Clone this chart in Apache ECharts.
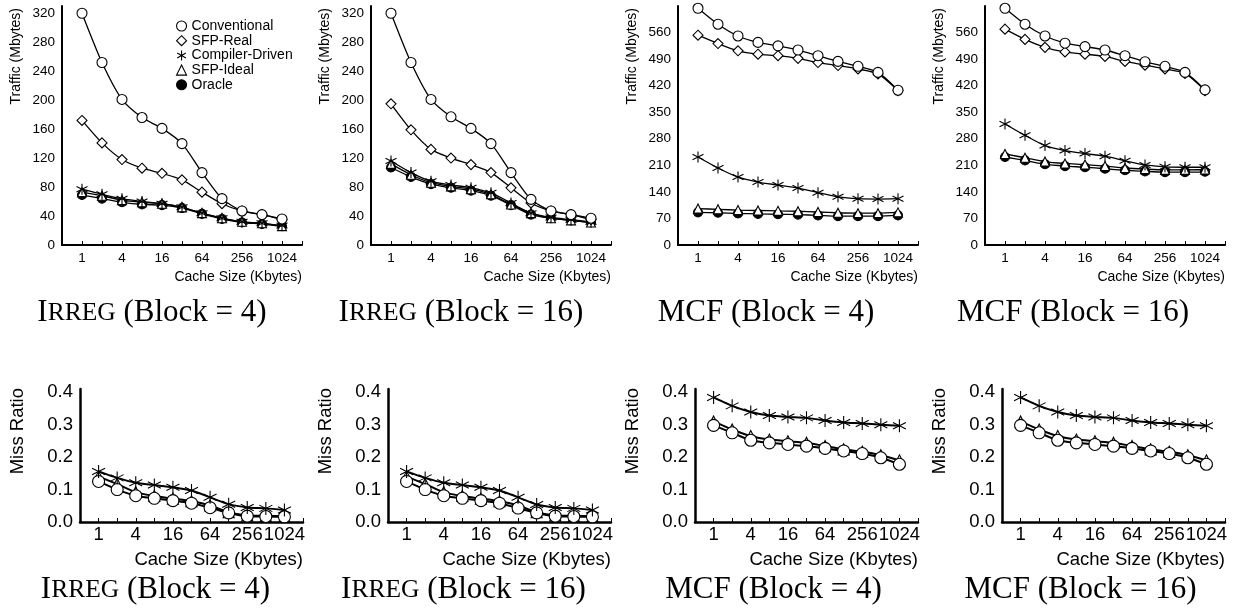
<!DOCTYPE html>
<html>
<head>
<meta charset="utf-8">
<script src="https://cdn.jsdelivr.net/npm/echarts@6/dist/echarts.min.js"></script>
<style>
html, body { margin: 0; padding: 0; background: #fff; }
#chart { width: 1234px; height: 616px; }
</style>
</head>
<body>
<div id="chart"></div>
<script>
// cache sizes in Kbytes (x positions 1..11 on a log2 scale)
var cacheSizes = [1, 2, 4, 8, 16, 32, 64, 128, 256, 512, 1024];
var shownSizes = [1, 4, 16, 64, 256, 1024];

// traffic (Mbytes) - Irreg, block 4
var irreg4Conventional = [320, 252, 201, 176, 161, 140, 100, 64, 47, 42, 36];
var irreg4SfpReal      = [172, 141, 118, 106, 99, 90, 73, 57, 47, 42, 35];
var irreg4Compiler     = [77, 70, 64, 60, 57, 52, 44, 37, 32, 30, 27];
var irreg4SfpIdeal     = [73, 68, 62, 59, 57, 52, 44, 37, 32, 30, 26];
var irreg4Oracle       = [69, 64, 59, 56, 55, 51, 43, 36, 31, 29, 26];

// traffic (Mbytes) - Irreg, block 16
var irreg16Conventional = [320, 252, 201, 177, 161, 140, 100, 63, 47, 42, 37];
var irreg16SfpReal      = [195, 159, 132, 120, 111, 100, 79, 58, 47, 42, 35];
var irreg16Compiler     = [116, 100, 88, 83, 79, 72, 58, 44, 38, 35, 32];
var irreg16SfpIdeal     = [112, 97, 86, 81, 77, 70, 56, 44, 37, 34, 31];
var irreg16Oracle       = [107, 94, 84, 79, 75, 68, 55, 42, 37, 34, 31];

// traffic (Mbytes) - MCF, block 4
var mcf4Conventional = [624, 582, 551, 534, 525, 514, 499, 484, 471, 455, 408];
var mcf4SfpReal      = [553, 531, 512, 503, 499, 492, 481, 473, 464, 451, 407];
var mcf4Compiler     = [232, 203, 179, 166, 158, 150, 138, 127, 122, 121, 122];
var mcf4SfpIdeal     = [96, 94, 92, 91, 90, 89, 87, 85, 84, 84, 86];
var mcf4Oracle       = [86, 85, 83, 82, 81, 80, 78, 76, 76, 76, 78];

// traffic (Mbytes) - MCF, block 16
var mcf16Conventional = [624, 582, 551, 532, 523, 514, 499, 483, 471, 455, 409];
var mcf16SfpReal      = [569, 542, 521, 509, 503, 497, 484, 474, 464, 452, 407];
var mcf16Compiler     = [319, 289, 262, 249, 241, 234, 222, 211, 206, 205, 205];
var mcf16SfpIdeal     = [240, 230, 220, 215, 212, 208, 203, 200, 198, 198, 199];
var mcf16Oracle       = [232, 223, 213, 208, 205, 201, 197, 194, 192, 192, 193];

// miss ratio
var irreg4MissConventional = [0.125, 0.100, 0.081, 0.073, 0.066, 0.058, 0.044, 0.028, 0.018, 0.017, 0.016];
var irreg4MissCompiler     = [0.156, 0.136, 0.121, 0.114, 0.107, 0.097, 0.076, 0.055, 0.045, 0.042, 0.037];
var irreg4MissSfpIdeal     = [0.140, 0.117, 0.092, 0.080, 0.072, 0.064, 0.051, 0.030, 0.020, 0.019, 0.018];

var irreg16MissConventional = [0.125, 0.100, 0.081, 0.073, 0.066, 0.058, 0.043, 0.028, 0.018, 0.017, 0.016];
var irreg16MissCompiler     = [0.156, 0.136, 0.121, 0.114, 0.107, 0.097, 0.076, 0.054, 0.045, 0.042, 0.037];
var irreg16MissSfpIdeal     = [0.140, 0.117, 0.092, 0.080, 0.072, 0.064, 0.051, 0.030, 0.020, 0.019, 0.018];

var mcf4MissConventional = [0.298, 0.275, 0.252, 0.244, 0.239, 0.234, 0.227, 0.219, 0.211, 0.198, 0.178];
var mcf4MissCompiler     = [0.384, 0.358, 0.339, 0.328, 0.324, 0.321, 0.313, 0.307, 0.304, 0.300, 0.297];
var mcf4MissSfpIdeal     = [0.310, 0.285, 0.265, 0.254, 0.249, 0.244, 0.234, 0.224, 0.217, 0.206, 0.190];

var mcf16MissConventional = [0.298, 0.275, 0.252, 0.244, 0.239, 0.234, 0.227, 0.219, 0.211, 0.198, 0.178];
var mcf16MissCompiler     = [0.384, 0.358, 0.339, 0.328, 0.324, 0.321, 0.313, 0.307, 0.304, 0.300, 0.297];
var mcf16MissSfpIdeal     = [0.310, 0.285, 0.265, 0.254, 0.249, 0.244, 0.234, 0.224, 0.217, 0.206, 0.190];

var SANS = '"Liberation Sans", Arial, sans-serif';
var SERIF = '"Liberation Serif", "Times New Roman", serif';
var ASTERISK = 'path://M5,0L5,10M0.67,2.5L9.33,7.5M0.67,7.5L9.33,2.5';

// marker look of each scheme
var markers = {
    'Conventional':    { symbol: 'circle',   fill: '#fff', size: 10 },
    'SFP-Real':        { symbol: 'diamond',  fill: '#fff', size: 10 },
    'Compiler-Driven': { symbol: ASTERISK,   fill: '#000', size: 11 },
    'SFP-Ideal':       { symbol: 'triangle', fill: '#fff', size: 9 },
    'Oracle':          { symbol: 'circle',   fill: '#000', size: 9 }
};

var panels = [
    { bench: 'IRREG', block: 4, row: 0, left: 62, max: 330, step: 40,
      lines: [['Oracle', irreg4Oracle], ['SFP-Ideal', irreg4SfpIdeal], ['Compiler-Driven', irreg4Compiler], ['SFP-Real', irreg4SfpReal], ['Conventional', irreg4Conventional]] },
    { bench: 'IRREG', block: 16, row: 0, left: 371, max: 330, step: 40,
      lines: [['Oracle', irreg16Oracle], ['SFP-Ideal', irreg16SfpIdeal], ['Compiler-Driven', irreg16Compiler], ['SFP-Real', irreg16SfpReal], ['Conventional', irreg16Conventional]] },
    { bench: 'MCF', block: 4, row: 0, left: 678, max: 630, step: 70,
      lines: [['Oracle', mcf4Oracle], ['SFP-Ideal', mcf4SfpIdeal], ['Compiler-Driven', mcf4Compiler], ['SFP-Real', mcf4SfpReal], ['Conventional', mcf4Conventional]] },
    { bench: 'MCF', block: 16, row: 0, left: 985, max: 630, step: 70,
      lines: [['Oracle', mcf16Oracle], ['SFP-Ideal', mcf16SfpIdeal], ['Compiler-Driven', mcf16Compiler], ['SFP-Real', mcf16SfpReal], ['Conventional', mcf16Conventional]] },
    { bench: 'IRREG', block: 4, row: 1, left: 80, max: 0.41, step: 0.1,
      lines: [['SFP-Ideal', irreg4MissSfpIdeal], ['Conventional', irreg4MissConventional], ['Compiler-Driven', irreg4MissCompiler]] },
    { bench: 'IRREG', block: 16, row: 1, left: 388, max: 0.41, step: 0.1,
      lines: [['SFP-Ideal', irreg16MissSfpIdeal], ['Conventional', irreg16MissConventional], ['Compiler-Driven', irreg16MissCompiler]] },
    { bench: 'MCF', block: 4, row: 1, left: 695, max: 0.41, step: 0.1,
      lines: [['SFP-Ideal', mcf4MissSfpIdeal], ['Conventional', mcf4MissConventional], ['Compiler-Driven', mcf4MissCompiler]] },
    { bench: 'MCF', block: 16, row: 1, left: 1002, max: 0.41, step: 0.1,
      lines: [['SFP-Ideal', mcf16MissSfpIdeal], ['Conventional', mcf16MissConventional], ['Compiler-Driven', mcf16MissCompiler]] }
];

// row geometry: top row traffic, bottom row miss ratio
var rows = [
    { top: 6, height: 239, width: 240, font: 13.5, nameFont: 14, yTitle: 'Traffic (Mbytes)', yTitleTop: 8, yTitleGap: 46,
      xNameY: 277, captionY: 313, axisWidth: 2, labelMargin: 6, markScale: 1, lineWidth: 1.3 },
    { top: 389, height: 133, width: 223, font: 18.5, nameFont: 18.5, yTitle: 'Miss Ratio', yTitleTop: 388, yTitleGap: 62,
      xNameY: 560, captionY: 590, axisWidth: 2.5, labelMargin: 3, markScale: 1.2, lineWidth: 2 }
];

var option = {
    backgroundColor: '#fff',
    animation: false,
    grid: [], xAxis: [], yAxis: [], series: [], title: [], graphic: [],
    legend: {
        left: 176, top: 19, orient: 'vertical', padding: 0, itemGap: 0.7,
        itemWidth: 10, itemHeight: 10, selectedMode: false,
        textStyle: { fontFamily: SANS, fontSize: 14, lineHeight: 14, color: '#000' },
        data: ['Conventional', 'SFP-Real', 'Compiler-Driven', 'SFP-Ideal', 'Oracle'].map(function (n) {
            var m = markers[n];
            return { name: n, icon: m.symbol,
                     itemStyle: { color: m.fill, borderColor: '#000', borderWidth: 1.1 } };
        })
    }
};

panels.forEach(function (p, k) {
    var r = rows[p.row];
    var isMiss = p.row === 1;
    option.grid.push({ left: p.left, top: r.top, width: r.width, height: r.height, containLabel: false });
    option.xAxis.push({
        type: 'value', gridIndex: k, min: 0, max: 12, interval: 1,
        axisLine: { show: true, onZero: false, lineStyle: { color: '#000', width: r.axisWidth } },
        axisTick: { show: true, inside: true, length: 4, lineStyle: { color: '#000', width: 1 } },
        splitLine: { show: false },
        axisLabel: {
            color: '#000', fontFamily: SANS, fontSize: r.font, margin: r.labelMargin,
            showMinLabel: true, showMaxLabel: true,
            formatter: function (v) {
                var s = cacheSizes[v - 1];
                return s !== undefined && shownSizes.indexOf(s) >= 0 ? String(s) : '';
            }
        }
    });
    option.yAxis.push({
        type: 'value', gridIndex: k, min: 0, max: p.max, interval: p.step,
        axisLine: { show: true, lineStyle: { color: '#000', width: r.axisWidth } },
        axisTick: { show: false },
        splitLine: { show: false },
        axisLabel: {
            color: '#000', fontFamily: SANS, fontSize: r.font, margin: 7, showMaxLabel: isMiss ? false : false,
            formatter: function (v) {
                if (isMiss) return v > 0.405 ? '' : v.toFixed(1);
                return v > p.max - 1e-6 ? '' : String(v);
            }
        }
    });
    p.lines.forEach(function (ln) {
        var m = markers[ln[0]];
        option.series.push({
            name: ln[0], type: 'line', xAxisIndex: k, yAxisIndex: k,
            smooth: 0.25, symbol: m.symbol, symbolSize: Math.round(m.size * r.markScale),
            showSymbol: true,
            lineStyle: { color: '#000', width: r.lineWidth },
            itemStyle: { color: m.fill, borderColor: '#000', borderWidth: 1.1 },
            data: ln[1].map(function (v, i) { return [i + 1, v]; })
        });
    });

    // y axis title, top aligned
    option.graphic.push({
        type: 'text', x: p.left - r.yTitleGap, y: r.yTitleTop, rotation: Math.PI / 2,
        style: { text: r.yTitle, fontFamily: SANS, fontSize: r.nameFont, fill: '#000',
                 align: 'right', verticalAlign: 'middle', textAlign: 'right', textVerticalAlign: 'middle' }
    });
    // x axis title, right aligned with axis end
    option.graphic.push({
        type: 'text', x: p.left + r.width, y: r.xNameY,
        style: { text: 'Cache Size (Kbytes)', fontFamily: SANS, fontSize: r.nameFont, fill: '#000',
                 align: 'right', verticalAlign: 'middle', textAlign: 'right', textVerticalAlign: 'middle' }
    });
    // caption below each panel
    var name = p.bench === 'IRREG' ? '{big|I}{small|RREG}' : 'MCF';
    option.title.push({
        text: name + ' (Block = ' + p.block + ')',
        left: p.left + r.width / 2 - (p.row === 0 ? 30 : 36) + (p.bench === 'MCF' ? (p.row === 0 ? -2 : 3) : 0),
        top: r.captionY - 17, textAlign: 'center', padding: 0,
        textStyle: {
            fontFamily: SERIF, fontSize: 31, fontWeight: 'normal', color: '#000', lineHeight: 34,
            rich: {
                big: { fontFamily: SERIF, fontSize: 31, color: '#000', lineHeight: 34 },
                small: { fontFamily: SERIF, fontSize: 25.5, color: '#000', lineHeight: 34 }
            }
        }
    });
});

var chart = echarts.init(document.getElementById('chart'));
chart.setOption(option);
</script>
</body>
</html>
